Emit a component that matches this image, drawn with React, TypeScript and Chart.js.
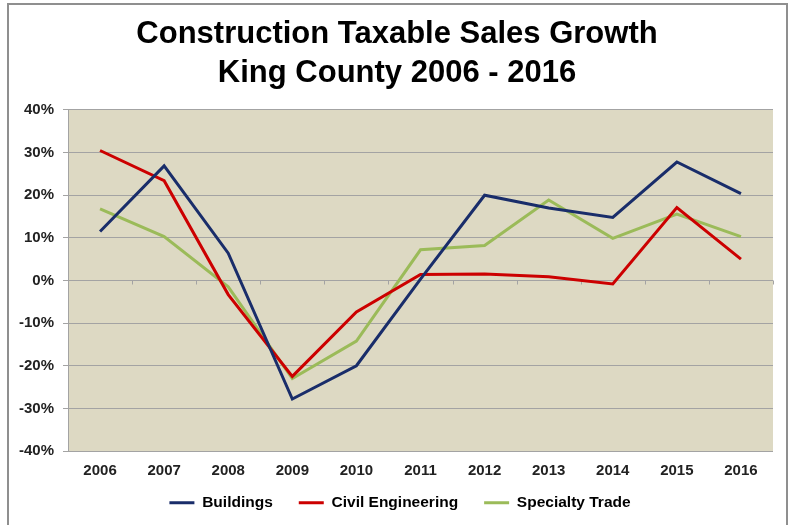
import React, { useEffect, useRef } from "react";
import { Chart, registerables } from "chart.js";

Chart.register(...registerables);

const years = ["2006", "2007", "2008", "2009", "2010", "2011", "2012", "2013", "2014", "2015", "2016"];
const buildings = [11.5, 26.9, 6.4, -27.8, -20.0, 0.3, 20.0, 17.0, 14.8, 27.8, 20.4];
const civilEngineering = [30.5, 23.4, -3.3, -22.5, -7.4, 1.4, 1.5, 0.9, -0.8, 17.1, 5.0];
const specialtyTrade = [16.8, 10.3, -1.5, -23.0, -14.2, 7.2, 8.2, 18.9, 9.9, 15.6, 10.3];
const titleLines = ["Construction Taxable Sales Growth", "King County 2006 - 2016"];

const FONT = "'Liberation Sans', Arial, sans-serif";
const GRID = "#a3a3a3";

const plotBg = {
  id: "plotBg",
  beforeDraw(chart: any) {
    const { ctx, chartArea } = chart;
    ctx.save();
    ctx.fillStyle = "#DDD9C3";
    ctx.fillRect(chartArea.left, chartArea.top, chartArea.right - chartArea.left, chartArea.bottom - chartArea.top);
    ctx.restore();
  },
};

const boxShift = {
  id: "boxShift",
  afterLayout(chart: any) {
    const lg = chart.legend;
    if (lg) {
      lg.top -= 8;
      lg.bottom -= 8;
      lg.left += 9;
      lg.right += 9;
    }
    const tb = chart.titleBlock;
    if (tb) {
      tb.left += 6;
      tb.right += 6;
    }
  },
};

const zeroTicks = {
  id: "zeroTicks",
  beforeDatasetsDraw(chart: any) {
    const { ctx } = chart;
    const xs = chart.scales.x;
    const ys = chart.scales.y;
    const y0 = ys.getPixelForValue(0);
    const n = xs.ticks.length;
    ctx.save();
    ctx.strokeStyle = GRID;
    ctx.lineWidth = 1;
    ctx.beginPath();
    for (let i = 0; i <= n; i++) {
      const x = Math.round(xs.left + (i * (xs.right - xs.left)) / n) + 0.5;
      ctx.moveTo(x, y0);
      ctx.lineTo(x, y0 + 4);
    }
    ctx.stroke();
    ctx.restore();
  },
};

export default function App() {
  const ref = useRef<HTMLCanvasElement>(null);
  useEffect(() => {
    document.body.style.overflow = "hidden";
    const mk = (label: string, data: number[], color: string) => ({
      label,
      data,
      borderColor: color,
      backgroundColor: color,
      borderWidth: 3,
      pointRadius: 0,
      tension: 0,
    });
    const chart = new Chart(ref.current!, {
      type: "line",
      data: {
        labels: years,
        datasets: [
          mk("Buildings", buildings, "#192D6A"),
          mk("Civil Engineering", civilEngineering, "#CC0000"),
          mk("Specialty Trade", specialtyTrade, "#9BBB59"),
        ],
      },
      plugins: [plotBg, zeroTicks, boxShift],
      options: {
        animation: false,
        responsive: true,
        maintainAspectRatio: false,
        layout: { padding: { left: 0, right: 13, top: 0, bottom: 4 } },
        plugins: {
          tooltip: { enabled: false },
          title: {
            display: true,
            text: titleLines,
            color: "#000",
            font: { family: FONT, size: 31, weight: "bold", lineHeight: 1.258 },
            padding: { top: 10, bottom: 17 },
          },
          legend: {
            position: "bottom",
            maxHeight: 44,
            labels: {
              color: "#222",
              font: { family: FONT, size: 15.5, weight: "bold" },
              boxWidth: 25,
              boxHeight: 3,
              padding: 26,
              generateLabels(chart: any) {
                return chart.data.datasets.map((d: any, i: number) => ({
                  text: d.label,
                  fillStyle: d.borderColor,
                  strokeStyle: d.borderColor,
                  lineWidth: 0,
                  datasetIndex: i,
                  hidden: false,
                }));
              },
            },
          },
        },
        scales: {
          x: {
            offset: true,
            grid: { display: false, drawTicks: false },
            border: { display: false },
            ticks: { color: "#222", font: { family: FONT, size: 15, weight: "bold" }, padding: 11, maxRotation: 0 },
            afterFit(s: any) {
              s.height = 26;
            },
          },
          y: {
            min: -40,
            max: 40,
            grid: { color: GRID, lineWidth: 1, drawTicks: true, tickLength: 5 },
            border: { display: true, color: GRID },
            ticks: {
              stepSize: 10,
              color: "#222",
              padding: 9,
              font: { family: FONT, size: 15, weight: "bold" },
              callback: (v: any) => v + "%",
            },
            afterFit(s: any) {
              s.width = 59;
            },
          },
        },
      },
    });
    return () => chart.destroy();
  }, []);
  return (
    <div
      style={{
        position: "absolute",
        left: 7,
        top: 3,
        width: 781,
        height: 522,
        border: "2px solid #8f8f8f",
        borderBottom: "none",
        boxSizing: "border-box",
        background: "#fff",
      }}
    >
      <div style={{ position: "relative", width: 777, height: 520 }}>
        <canvas ref={ref} />
      </div>
    </div>
  );
}
